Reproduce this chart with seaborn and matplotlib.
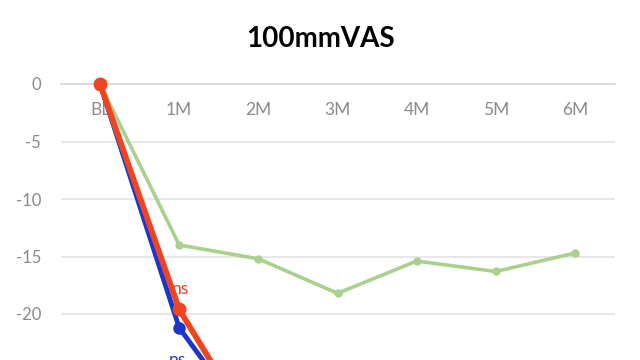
import matplotlib
matplotlib.use("Agg")
import matplotlib.pyplot as plt
import seaborn as sns
import pandas as pd

months = ["BL", "1M", "2M", "3M", "4M", "5M", "6M"]
green_vals = [0, -14.0, -15.2, -18.2, -15.4, -16.3, -14.7]
red_vals = [0, -19.6, -30.9, -32.0, -33.0, -33.5, -34.0]
blue_vals = [0, -21.2, -30.6, -31.5, -32.5, -33.0, -33.5]
yticks = [0, -5, -10, -15, -20, -25, -30, -35, -40]

sns.set_theme(style="white")
plt.rcParams['font.family'] = ['Lato', 'DejaVu Sans']

fig = plt.figure(figsize=(6.4, 3.6), dpi=100)
ax = fig.add_axes([60.5 / 640, (360 - 544) / 360, 554 / 640, 483 / 360])

x = list(range(len(months)))
df_g = pd.DataFrame({"x": x, "y": green_vals})
df_b = pd.DataFrame({"x": x, "y": blue_vals})
df_r = pd.DataFrame({"x": x, "y": red_vals})

green = "#A9D18E"
blue = "#1F35C8"
red = "#EE4520"

sns.lineplot(data=df_g, x="x", y="y", ax=ax, color=green, linewidth=2.6,
             marker="o", markersize=6, markeredgewidth=0, zorder=3)
sns.lineplot(data=df_b, x="x", y="y", ax=ax, color=blue, linewidth=3.5,
             marker="o", markersize=9, markeredgewidth=0, zorder=4)
sns.lineplot(data=df_r, x="x", y="y", ax=ax, color=red, linewidth=4.2,
             marker="o", markersize=10, markeredgewidth=0, zorder=5)

ax.annotate("ns", (1, red_vals[1]), xytext=(0.5, 15), textcoords="offset points",
            ha="center", va="center", color="#D9442A", fontsize=12.5)
ax.annotate("ns", (1, blue_vals[1]), xytext=(-1, -23), textcoords="offset points",
            ha="center", va="center", color="#2A3FB0", fontsize=12.5)

ax.set_xlim(-0.5, 6.5)
ax.set_ylim(-40, 2)
ax.set_xticks(x)
ax.set_xticklabels(months)
ax.set_yticks(yticks)
ax.set_yticklabels([str(v) for v in yticks])
ax.set_xlabel("")
ax.set_ylabel("")

for s in ["top", "right", "left"]:
    ax.spines[s].set_visible(False)
ax.spines["bottom"].set_position(("data", 0))
ax.spines["bottom"].set_color("#D9D9D9")
ax.spines["bottom"].set_linewidth(1.2)
ax.spines["bottom"].set_zorder(1)

ax.yaxis.grid(True, color="#E3E3E3", linewidth=1.2)
ax.set_axisbelow(True)
ax.tick_params(axis="x", length=0, pad=13, labelsize=12.5, labelcolor="#8A8A8A")
ax.tick_params(axis="y", length=0, pad=14, labelsize=12, labelcolor="#8A8A8A")

fig.text(0.5, 1 - 39 / 360, "100mmVAS", ha="center", va="center",
         fontsize=20, fontweight="bold", color="#000000")

fig.savefig("out.png", dpi=100)
